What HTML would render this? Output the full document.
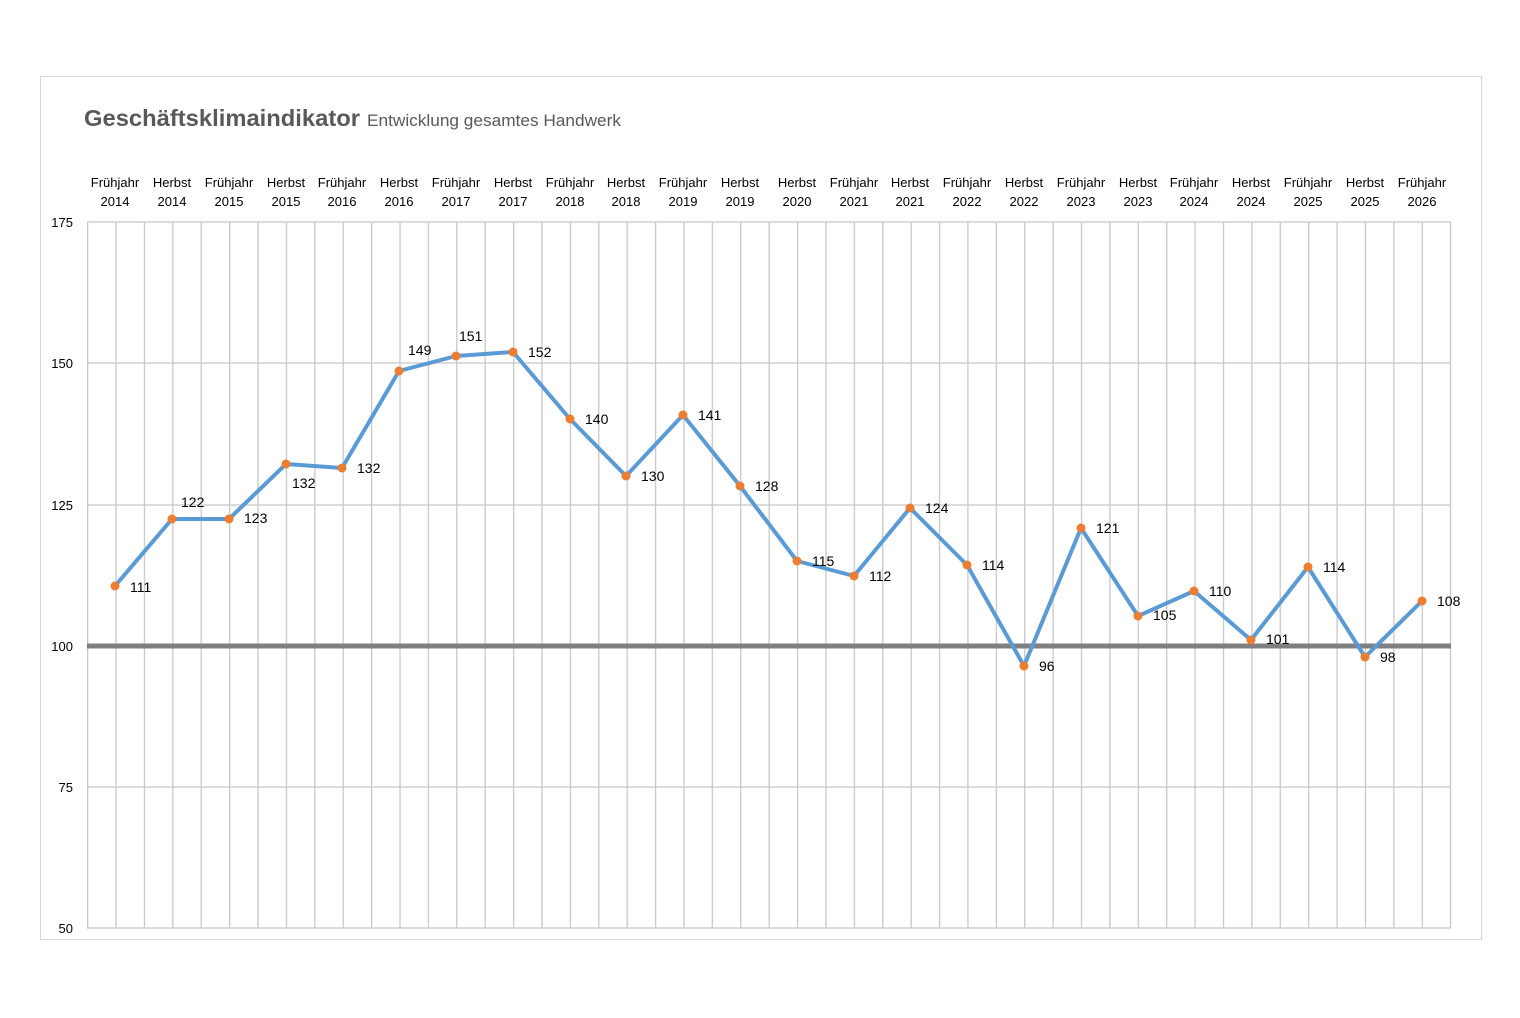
<!DOCTYPE html>
<html><head><meta charset="utf-8"><style>
body{margin:0;background:#fff;width:1520px;height:1013px;overflow:hidden;font-family:"Liberation Sans",sans-serif}
</style></head><body>
<svg width="1520" height="1013" xmlns="http://www.w3.org/2000/svg" font-family="Liberation Sans, sans-serif">
<defs>
<pattern id="vg" x="87" y="0" width="28.396" height="10" patternUnits="userSpaceOnUse">
<rect x="0" y="0" width="1.3" height="10" fill="#c8c8c8"/>
</pattern>
</defs>
<rect x="40.5" y="76.5" width="1441" height="863" fill="#fff" stroke="#d9d9d9"/>
<text x="84" y="126" font-size="23" font-weight="bold" fill="#595959" textLength="276" lengthAdjust="spacingAndGlyphs">Geschäftsklimaindikator</text>
<text x="367" y="126" font-size="17" fill="#595959" textLength="254" lengthAdjust="spacingAndGlyphs">Entwicklung gesamtes Handwerk</text>
<rect x="87" y="222" width="1364" height="706" fill="url(#vg)"/>
<g stroke="#c8c8c8" stroke-width="1.3">
<line x1="87" y1="222" x2="1451" y2="222"/>
<line x1="87" y1="363" x2="1451" y2="363"/>
<line x1="87" y1="505" x2="1451" y2="505"/>
<line x1="87" y1="787" x2="1451" y2="787"/>
<line x1="87" y1="928" x2="1451" y2="928"/>
<line x1="1450.5" y1="222" x2="1450.5" y2="928"/>
</g>
<line x1="87" y1="646" x2="1451" y2="646" stroke="#7f7f7f" stroke-width="5"/>
<g font-size="13" fill="#000" text-anchor="end">
<text x="73" y="227">175</text><text x="73" y="368">150</text><text x="73" y="510">125</text>
<text x="73" y="651">100</text><text x="73" y="792">75</text><text x="73" y="933">50</text>
</g>
<g font-size="13" fill="#000" text-anchor="middle">
<text x="115" y="187">Frühjahr</text><text x="115" y="206">2014</text>
<text x="172" y="187">Herbst</text><text x="172" y="206">2014</text>
<text x="229" y="187">Frühjahr</text><text x="229" y="206">2015</text>
<text x="286" y="187">Herbst</text><text x="286" y="206">2015</text>
<text x="342" y="187">Frühjahr</text><text x="342" y="206">2016</text>
<text x="399" y="187">Herbst</text><text x="399" y="206">2016</text>
<text x="456" y="187">Frühjahr</text><text x="456" y="206">2017</text>
<text x="513" y="187">Herbst</text><text x="513" y="206">2017</text>
<text x="570" y="187">Frühjahr</text><text x="570" y="206">2018</text>
<text x="626" y="187">Herbst</text><text x="626" y="206">2018</text>
<text x="683" y="187">Frühjahr</text><text x="683" y="206">2019</text>
<text x="740" y="187">Herbst</text><text x="740" y="206">2019</text>
<text x="797" y="187">Herbst</text><text x="797" y="206">2020</text>
<text x="854" y="187">Frühjahr</text><text x="854" y="206">2021</text>
<text x="910" y="187">Herbst</text><text x="910" y="206">2021</text>
<text x="967" y="187">Frühjahr</text><text x="967" y="206">2022</text>
<text x="1024" y="187">Herbst</text><text x="1024" y="206">2022</text>
<text x="1081" y="187">Frühjahr</text><text x="1081" y="206">2023</text>
<text x="1138" y="187">Herbst</text><text x="1138" y="206">2023</text>
<text x="1194" y="187">Frühjahr</text><text x="1194" y="206">2024</text>
<text x="1251" y="187">Herbst</text><text x="1251" y="206">2024</text>
<text x="1308" y="187">Frühjahr</text><text x="1308" y="206">2025</text>
<text x="1365" y="187">Herbst</text><text x="1365" y="206">2025</text>
<text x="1422" y="187">Frühjahr</text><text x="1422" y="206">2026</text>
</g>
<polyline fill="none" stroke="#5b9bd5" stroke-width="4" stroke-linejoin="round" points="115,586 172,519 229,519 286,464 342,468 399,371 456,356 513,352 570,419 626,476 683,415 740,486 797,561 854,576 910,508 967,565 1024,666 1081,528 1138,616 1194,591 1251,640 1308,567 1365,657 1422,601"/>
<g fill="#ed7d31">
<circle cx="115" cy="586" r="4.5"/><circle cx="172" cy="519" r="4.5"/><circle cx="229" cy="519" r="4.5"/><circle cx="286" cy="464" r="4.5"/><circle cx="342" cy="468" r="4.5"/><circle cx="399" cy="371" r="4.5"/><circle cx="456" cy="356" r="4.5"/><circle cx="513" cy="352" r="4.5"/><circle cx="570" cy="419" r="4.5"/><circle cx="626" cy="476" r="4.5"/><circle cx="683" cy="415" r="4.5"/><circle cx="740" cy="486" r="4.5"/><circle cx="797" cy="561" r="4.5"/><circle cx="854" cy="576" r="4.5"/><circle cx="910" cy="508" r="4.5"/><circle cx="967" cy="565" r="4.5"/><circle cx="1024" cy="666" r="4.5"/><circle cx="1081" cy="528" r="4.5"/><circle cx="1138" cy="616" r="4.5"/><circle cx="1194" cy="591" r="4.5"/><circle cx="1251" cy="640" r="4.5"/><circle cx="1308" cy="567" r="4.5"/><circle cx="1365" cy="657" r="4.5"/><circle cx="1422" cy="601" r="4.5"/>
</g>
<g font-size="14" fill="#000">
<text x="130" y="592">111</text><text x="181" y="507">122</text><text x="244" y="523">123</text>
<text x="292" y="488">132</text><text x="357" y="473">132</text><text x="408" y="355">149</text>
<text x="459" y="341">151</text><text x="528" y="357">152</text><text x="585" y="424">140</text>
<text x="641" y="481">130</text><text x="698" y="420">141</text><text x="755" y="491">128</text>
<text x="812" y="566">115</text><text x="869" y="581">112</text><text x="925" y="513">124</text>
<text x="982" y="570">114</text><text x="1039" y="671">96</text><text x="1096" y="533">121</text>
<text x="1153" y="620">105</text><text x="1209" y="596">110</text><text x="1266" y="644">101</text>
<text x="1323" y="572">114</text><text x="1380" y="662">98</text><text x="1437" y="606">108</text>
</g>
</svg>
</body></html>
